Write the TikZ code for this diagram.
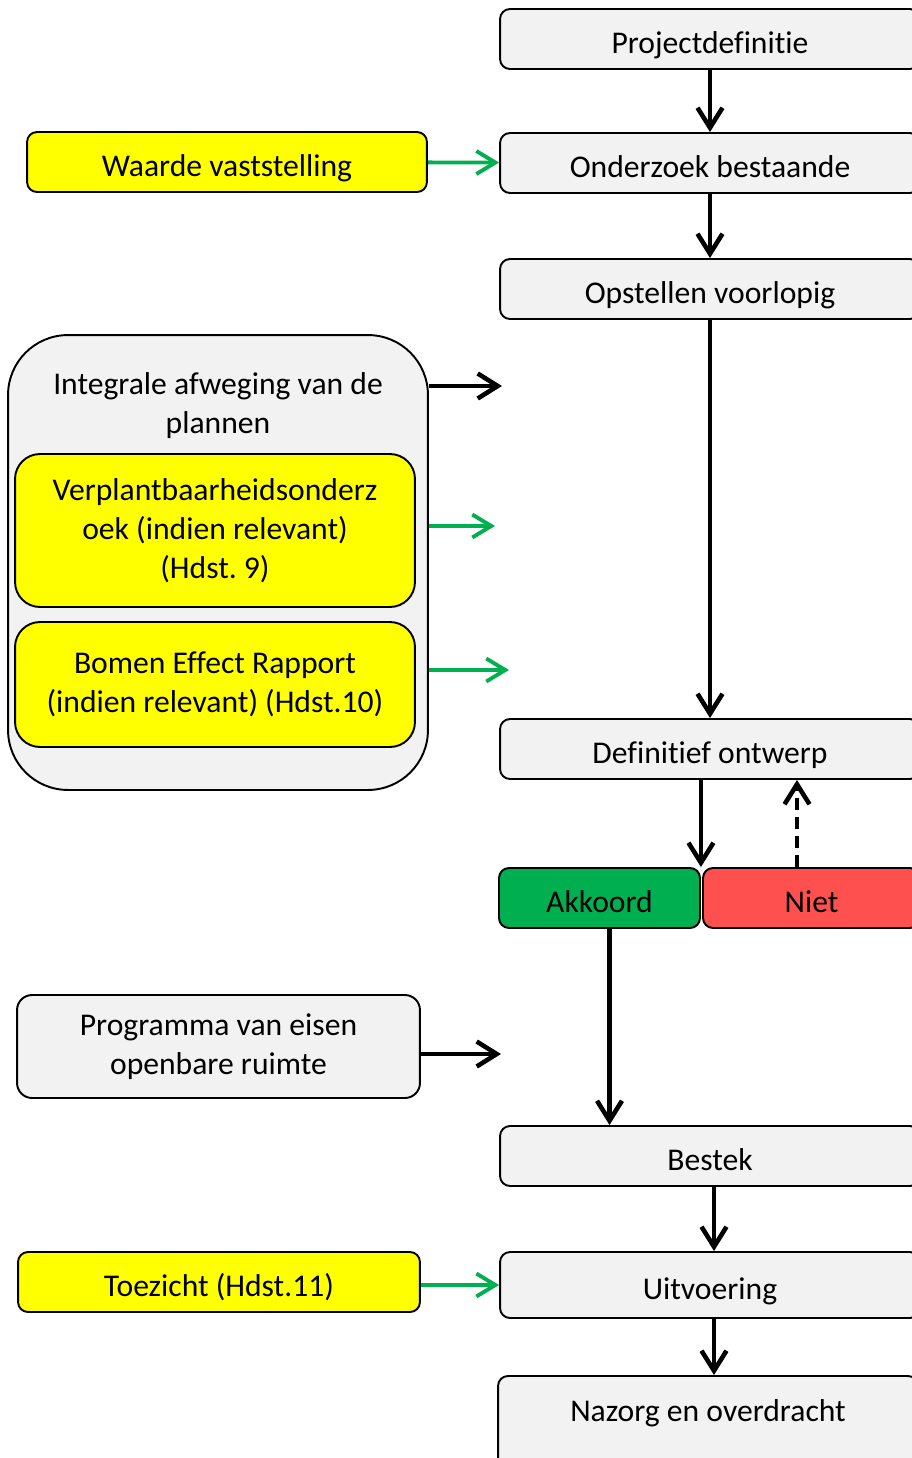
\documentclass[tikz,border=0pt]{standalone}
\usepackage{fontspec}
\setmainfont{Carlito}[Ligatures=NoCommon]
\usetikzlibrary{arrows.meta}
\definecolor{boxgray}{HTML}{F2F2F2}
\definecolor{geelvul}{HTML}{FFFF00}
\definecolor{akkgroen}{HTML}{00B050}
\definecolor{nietrood}{HTML}{FF5050}
\definecolor{pijlgroen}{HTML}{00B050}
\tikzset{
	vak/.style={draw, rounded corners=0.2cm, fill=boxgray, line width=1.1pt, minimum width=8.4cm, minimum height=1.2cm, inner sep=0pt, align=center, font=\fontsize{18}{22.2}\selectfont},
	stap/.style={vak, text height=0.66cm, text depth=0.1cm},
	geel/.style={stap, fill=geelvul},
	geelvak/.style={vak, fill=geelvul, rounded corners=0.5cm, minimum width=8cm},
	pijl/.style={-{Straight Barb[length=4mm,width=5mm]}, line width=2.6pt},
	groen/.style={-{Straight Barb[length=3.8mm,width=4.6mm]}, line width=2.2pt, draw=pijlgroen}
}
\begin{document}
\begin{tikzpicture}[x=0.02cm, y=-0.02cm]
		\useasboundingbox (0,0) rectangle (912,1458);
		\clip (0,0) rectangle (912,1458);
		
		%Main column
		\node[stap] (PD) at (710,39) {Projectdefinitie};
		\node[stap] (OB) at (710,163) {Onderzoek bestaande};
		\node[stap] (OV) at (710,289) {Opstellen voorlopig};
		\node[stap] (DO) at (710,749) {Definitief ontwerp};
		\node[stap, fill=akkgroen, minimum width=4.02cm] (AK) at (599.5,898) {Akkoord};
		\node[stap, fill=nietrood, minimum width=4.34cm] (NI) at (811.5,898) {Niet};
		\node[stap] (BE) at (710,1156) {Bestek};
		\node[stap, minimum height=1.32cm] (UV) at (710,1285) {Uitvoering};
		\node[vak, anchor=north, inner ysep=0.5cm, text height=0.42cm, text depth=1cm] (NO) at (708,1375) {Nazorg en overdracht};
		
		%Left column
		\node[geel, minimum width=8cm] (WV) at (227,162) {Waarde vaststelling};
		
		\node[vak, rounded corners=1.2cm, minimum width=8.4cm, minimum height=9.1cm] (CT) at (218,562.5) {};
		\node[align=center, inner sep=0pt, font=\fontsize{18}{22.2}\selectfont] (IA) at (218,406) {Integrale afweging van de\\plannen};
		\node[geelvak, minimum height=3.06cm] (VO) at (215,530.5) {Verplantbaarheidsonderz\\oek (indien relevant)\\(Hdst.\ 9)};
		\node[geelvak, minimum height=2.5cm] (BR) at (215,684.5) {Bomen Effect Rapport\\(indien relevant) (Hdst.10)};
		
		\node[vak, rounded corners=0.3cm, minimum width=8.06cm, minimum height=2.06cm] (PV) at (218.5,1046.5) {Programma van eisen\\openbare ruimte};
		\node[geel, minimum width=8.04cm] (TZ) at (219,1282) {Toezicht (Hdst.11)};
		
		%Free ends
		\coordinate (e1) at (502,386);
		\coordinate (e2) at (495,526);
		\coordinate (e3) at (509,670);
		\coordinate (e4) at (501,1054);
		
		%Arrows
		\draw[pijl] (PD) -- (OB);
		\draw[pijl] (OB) -- (OV);
		\draw[pijl] (OV) -- (DO);
		\draw[pijl] (DO.south -| AK.north east) -- (AK.north east);
		\draw[pijl, dash pattern=on 0.24cm off 0.14cm] ([xshift=-0.29cm]NI.north) -- ([xshift=-0.29cm]NI.north |- DO.south);
		\draw[pijl] ([xshift=0.2cm]AK.south) -- ([xshift=0.2cm]AK.south |- BE.north);
		\draw[pijl] ([xshift=0.08cm]BE.south) -- ([xshift=0.08cm]BE.south |- UV.north);
		\draw[pijl] ([xshift=0.08cm]UV.south) -- ([xshift=0.08cm]UV.south |- NO.north);
		
		\draw[groen] (WV) -- (OB);
		\draw[pijl] (CT.east |- e1) -- (e1);
		\draw[groen] (CT.east |- e2) -- (e2);
		\draw[groen] (CT.east |- e3) -- (e3);
		\draw[pijl] (PV.east |- e4) -- (e4);
		\draw[groen] (TZ.east |- UV.west) -- (UV.west);
\end{tikzpicture}
\end{document}
